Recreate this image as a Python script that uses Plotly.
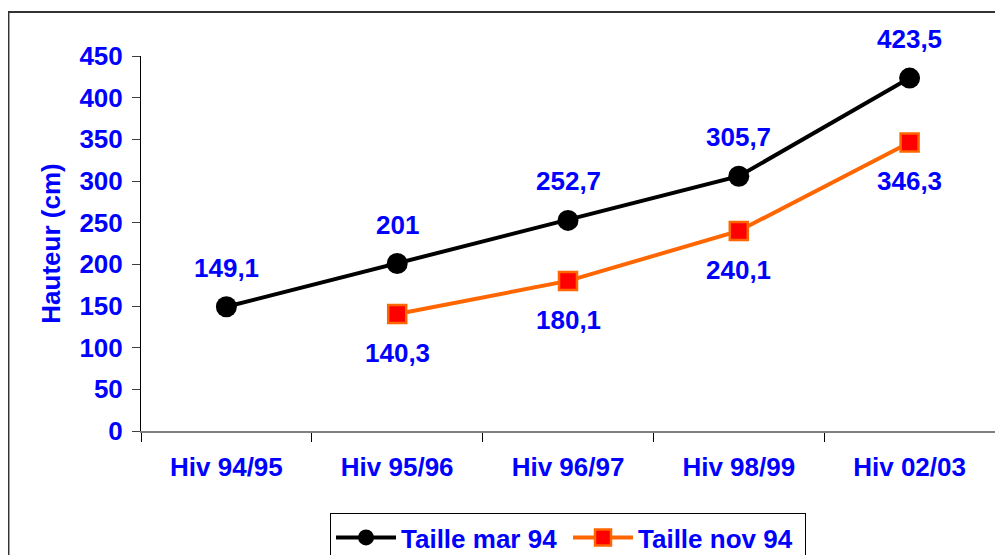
import plotly.graph_objects as go

categories = ["Hiv 94/95", "Hiv 95/96", "Hiv 96/97", "Hiv 98/99", "Hiv 02/03"]
taille_mar94 = [149.1, 201, 252.7, 305.7, 423.5]
taille_nov94 = [None, 140.3, 180.1, 240.1, 346.3]
label_mar94 = ["149,1", "201", "252,7", "305,7", "423,5"]
label_nov94 = [None, "140,3", "180,1", "240,1", "346,3"]
y_ticks = [0, 50, 100, 150, 200, 250, 300, 350, 400, 450]

BLUE = "#0000FF"
FONT = "Arial, Liberation Sans, sans-serif"
FS = 26

fig = go.Figure()
fig.add_trace(go.Scatter(
    x=categories, y=taille_mar94, mode="lines+markers", name="Taille mar 94",
    line=dict(color="#000000", width=4),
    marker=dict(symbol="circle", size=21, color="#000000"),
))
fig.add_trace(go.Scatter(
    x=categories, y=taille_nov94, mode="lines+markers", name="Taille nov 94",
    line=dict(color="#FF6600", width=4),
    marker=dict(symbol="square", size=18, color="#FF0000", line=dict(color="#FF6600", width=2.5)),
))

annotations = []
for c, v, t in zip(categories, taille_mar94, label_mar94):
    annotations.append(dict(x=c, y=v, text=t, showarrow=False, yshift=39,
                            font=dict(family=FONT, size=FS, color=BLUE, weight="bold")))
for c, v, t in zip(categories, taille_nov94, label_nov94):
    if v is None:
        continue
    annotations.append(dict(x=c, y=v, text=t, showarrow=False, yshift=-39,
                            font=dict(family=FONT, size=FS, color=BLUE, weight="bold")))

fig.update_layout(
    width=995, height=547,
    margin=dict(l=133, r=8, t=48, b=124, autoexpand=False),
    paper_bgcolor="white", plot_bgcolor="white",
    font=dict(family=FONT, size=FS, color=BLUE, weight="bold"),
    showlegend=True,
    legend=dict(orientation="h", x=0.5, xanchor="center", y=-0.2187, yanchor="top",
                bordercolor="#000000", borderwidth=1, bgcolor="white",
                font=dict(family=FONT, size=FS, color=BLUE, weight="bold"),
                entrywidth=162, itemwidth=60),
    annotations=annotations,
    xaxis=dict(type="category", range=[-0.5, 4.5], showgrid=False, zeroline=False,
               showline=True, linecolor="#808080", linewidth=2,
               ticks="outside", tickson="boundaries", ticklen=9, tickcolor="#000000", tickwidth=1,
               tickfont=dict(family=FONT, size=FS, color=BLUE, weight="bold"),
               ticklabelstandoff=12, automargin=False, fixedrange=True),
    yaxis=dict(range=[0, 450], tickvals=y_ticks, showgrid=False, zeroline=False,
               showline=True, linecolor="#000000", linewidth=1,
               ticks="outside", ticklen=8, tickcolor="#404040", tickwidth=1,
               tickfont=dict(family=FONT, size=FS, color=BLUE, weight="bold"),
               ticklabelstandoff=4, automargin=False,
               title=dict(text="Hauteur (cm)", standoff=11,
                          font=dict(family=FONT, size=FS, color=BLUE, weight="bold")),
               fixedrange=True),
    shapes=[dict(type="rect", xref="paper", yref="paper",
                 x0=-0.1552, x1=1.02, y0=-0.36, y1=1.1173,
                 line=dict(color="#333333", width=2), layer="below")],
)

fig.write_html("out.html")
